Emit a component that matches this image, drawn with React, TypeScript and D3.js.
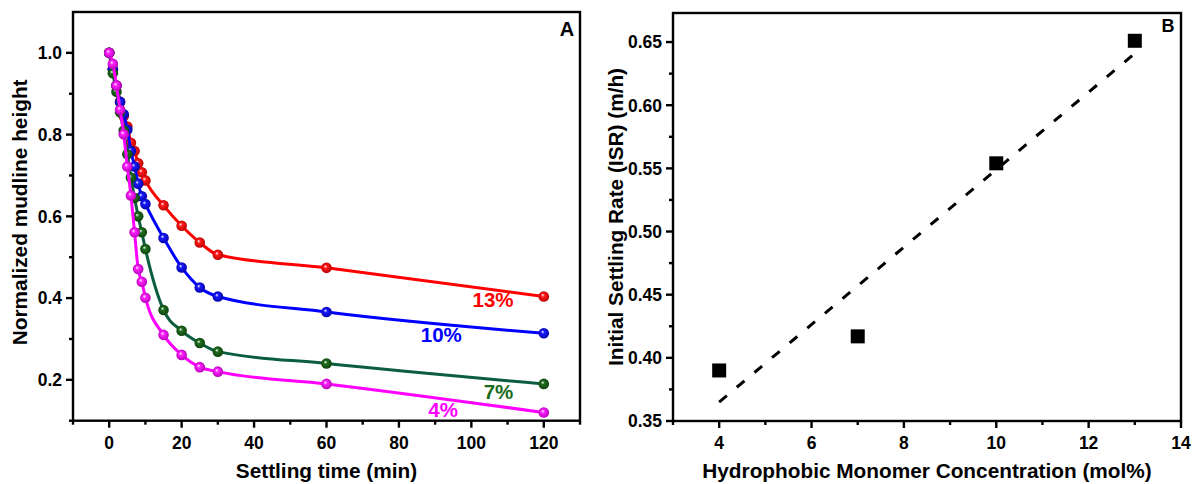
import React from 'react';
import * as d3 from 'd3';

// Panel A: normalized mudline height vs settling time, one series per monomer loading
const settlingTimes = [0, 1, 2, 3, 4, 5, 6, 7, 8, 9, 10, 15, 20, 25, 30, 60, 120];
const height13 = [1.0, 0.96, 0.92, 0.88, 0.845, 0.82, 0.78, 0.76, 0.73, 0.708, 0.688, 0.627, 0.577, 0.536, 0.506, 0.474, 0.404];
const height10 = [1.0, 0.96, 0.92, 0.88, 0.85, 0.812, 0.76, 0.722, 0.68, 0.649, 0.63, 0.547, 0.475, 0.426, 0.404, 0.366, 0.314];
const height7 = [1.0, 0.95, 0.905, 0.855, 0.81, 0.752, 0.695, 0.645, 0.6, 0.561, 0.52, 0.371, 0.32, 0.29, 0.269, 0.24, 0.19];
const height4 = [1.0, 0.973, 0.92, 0.861, 0.801, 0.722, 0.651, 0.561, 0.471, 0.44, 0.401, 0.31, 0.261, 0.231, 0.22, 0.19, 0.12];
const seriesNames = ['13%', '10%', '7%', '4%'];

// Panel B: initial settling rate vs hydrophobic monomer concentration
const monomerConc = [4, 7, 10, 13];
const isrValues = [0.39, 0.417, 0.554, 0.651];

const FONT = "'Liberation Sans', Arial, Helvetica, sans-serif";
const TICK_FS = 17.5;
const TITLE_FS = 20.8;

const seriesStyle = [
  { values: height13, line: '#ff0000', marker: '#ff1a1a', dark: '#b30000', label: '#ff0000', lx: 106, ly: 0.378 },
  { values: height10, line: '#0000ff', marker: '#1a1aff', dark: '#0000a0', label: '#0000ff', lx: 91.7, ly: 0.293 },
  { values: height7, line: '#0b5e3d', marker: '#1f6e1f', dark: '#0c400c', label: '#1a6b1a', lx: 107.5, ly: 0.153 },
  { values: height4, line: '#ff00ff', marker: '#ff22ff', dark: '#b000b0', label: '#ff00ff', lx: 92.2, ly: 0.109 },
];

function PanelA() {
  const x = d3.scaleLinear().domain([-10, 130]).range([73, 580]);
  const y = d3.scaleLinear().domain([0.1, 1.1]).range([420.7, 12]);
  const [x0, x1] = x.range();
  const [yb, yt] = y.range();

  const majorX = d3.range(0, 121, 20);
  const minorX = d3.range(-10, 131, 20);
  const majorY = [0.2, 0.4, 0.6, 0.8, 1.0];
  const minorY = [0.1, 0.3, 0.5, 0.7, 0.9];

  const line = d3
    .line<number>()
    .x((_, i) => x(settlingTimes[i]))
    .y((d) => y(d))
    .curve(d3.curveMonotoneX);

  return (
    <g>
      {/* series */}
      {seriesStyle.map((s, si) => (
        <g key={si}>
          <path d={line(s.values) || ''} fill="none" stroke={s.line} strokeWidth={3} />
          {s.values.map((v, i) => (
            <circle key={i} cx={x(settlingTimes[i])} cy={y(v)} r={5.3} fill={`url(#sphereA${si})`} />
          ))}
        </g>
      ))}
      {seriesStyle.map((s, si) => (
        <text
          key={`lab${si}`}
          x={x(s.lx)}
          y={y(s.ly)}
          textAnchor="middle"
          fontFamily={FONT}
          fontWeight="bold"
          fontSize={20.5}
          fill={s.label}
        >
          {seriesNames[si]}
        </text>
      ))}

      {/* frame */}
      <rect x={x0} y={yt} width={x1 - x0} height={yb - yt} fill="none" stroke="#000" strokeWidth={2.4} />

      {/* x axis ticks */}
      {majorX.map((t) => (
        <g key={`mx${t}`}>
          <line x1={x(t)} x2={x(t)} y1={yb} y2={yb + 7} stroke="#000" strokeWidth={2.4} />
          <text x={x(t)} y={449} textAnchor="middle" fontFamily={FONT} fontWeight="bold" fontSize={TICK_FS}>
            {t}
          </text>
        </g>
      ))}
      {minorX.map((t) => (
        <line key={`nx${t}`} x1={x(t)} x2={x(t)} y1={yb} y2={yb + 4} stroke="#000" strokeWidth={2.4} />
      ))}

      {/* y axis ticks */}
      {majorY.map((t) => (
        <g key={`my${t}`}>
          <line x1={x0 - 7} x2={x0} y1={y(t)} y2={y(t)} stroke="#000" strokeWidth={2.4} />
          <text x={62} y={y(t)} dy="0.36em" textAnchor="end" fontFamily={FONT} fontWeight="bold" fontSize={TICK_FS}>
            {t.toFixed(1)}
          </text>
        </g>
      ))}
      {minorY.map((t) => (
        <line key={`ny${t}`} x1={x0 - 4} x2={x0} y1={y(t)} y2={y(t)} stroke="#000" strokeWidth={2.4} />
      ))}

      {/* titles */}
      <text x={(x0 + x1) / 2} y={478} textAnchor="middle" fontFamily={FONT} fontWeight="bold" fontSize={TITLE_FS}>
        Settling time (min)
      </text>
      <text
        transform={`translate(27, ${(yb + yt) / 2 - 4}) rotate(-90)`}
        textAnchor="middle"
        fontFamily={FONT}
        fontWeight="bold"
        fontSize={TITLE_FS}
      >
        Normalized mudline height
      </text>
      <text x={567} y={36} textAnchor="middle" fontFamily={FONT} fontWeight="bold" fontSize={20}>
        A
      </text>
    </g>
  );
}

function PanelB() {
  const x = d3.scaleLinear().domain([3, 14]).range([673, 1181]);
  const y = d3.scaleLinear().domain([0.35, 0.673]).range([421, 13]);
  const [x0, x1] = x.range();
  const [yb, yt] = y.range();

  const majorX = d3.range(4, 15, 2);
  const minorX = d3.range(3, 14, 2);
  const majorY = d3.range(0, 7).map((i) => 0.35 + i * 0.05);
  const minorY = d3.range(0, 6).map((i) => 0.375 + i * 0.05);

  // least-squares linear fit of ISR vs concentration
  const mx = d3.mean(monomerConc) as number;
  const my = d3.mean(isrValues) as number;
  const sxy = d3.sum(monomerConc, (c, i) => (c - mx) * (isrValues[i] - my));
  const sxx = d3.sum(monomerConc, (c) => (c - mx) ** 2);
  const slope = sxy / sxx;
  const intercept = my - slope * mx;
  const fitX = [monomerConc[0], monomerConc[monomerConc.length - 1]];
  const fitLine = d3
    .line<number>()
    .x((c) => x(c))
    .y((c) => y(intercept + slope * c));

  const sq = 14;

  return (
    <g>
      <path d={fitLine(fitX) || ''} fill="none" stroke="#000" strokeWidth={3} strokeDasharray="10,13" />
      {monomerConc.map((c, i) => (
        <rect key={i} x={x(c) - sq / 2} y={y(isrValues[i]) - sq / 2} width={sq} height={sq} fill="#000" />
      ))}

      <rect x={x0} y={yt} width={x1 - x0} height={yb - yt} fill="none" stroke="#000" strokeWidth={2.4} />

      {majorX.map((t) => (
        <g key={`mx${t}`}>
          <line x1={x(t)} x2={x(t)} y1={yb} y2={yb + 7} stroke="#000" strokeWidth={2.4} />
          <text x={x(t)} y={449} textAnchor="middle" fontFamily={FONT} fontWeight="bold" fontSize={TICK_FS}>
            {t}
          </text>
        </g>
      ))}
      {minorX.map((t) => (
        <line key={`nx${t}`} x1={x(t)} x2={x(t)} y1={yb} y2={yb + 4} stroke="#000" strokeWidth={2.4} />
      ))}

      {majorY.map((t) => (
        <g key={`my${t}`}>
          <line x1={x0 - 7} x2={x0} y1={y(t)} y2={y(t)} stroke="#000" strokeWidth={2.4} />
          <text x={662} y={y(t)} dy="0.36em" textAnchor="end" fontFamily={FONT} fontWeight="bold" fontSize={TICK_FS}>
            {t.toFixed(2)}
          </text>
        </g>
      ))}
      {minorY.map((t) => (
        <line key={`ny${t}`} x1={x0 - 4} x2={x0} y1={y(t)} y2={y(t)} stroke="#000" strokeWidth={2.4} />
      ))}

      <text x={(x0 + x1) / 2} y={478} textAnchor="middle" fontFamily={FONT} fontWeight="bold" fontSize={TITLE_FS}>
        Hydrophobic Monomer Concentration (mol%)
      </text>
      <text
        transform={`translate(623, ${(yb + yt) / 2}) rotate(-90)`}
        textAnchor="middle"
        fontFamily={FONT}
        fontWeight="bold"
        fontSize={TITLE_FS}
      >
        Initial Settling Rate (ISR) (m/h)
      </text>
      <text x={1168} y={32} textAnchor="middle" fontFamily={FONT} fontWeight="bold" fontSize={18}>
        B
      </text>
    </g>
  );
}

export default function App() {
  return (
    <svg
      width={1192}
      height={484}
      viewBox="0 0 1192 484"
      style={{ position: 'absolute', left: 0, top: 0, background: '#fff' }}
    >
      <defs>
        {seriesStyle.map((s, si) => (
          <radialGradient key={si} id={`sphereA${si}`} cx="0.5" cy="0.5" r="0.55" fx="0.38" fy="0.35">
            <stop offset="0%" stopColor="#ffffff" />
            <stop offset="30%" stopColor={s.marker} />
            <stop offset="100%" stopColor={s.dark} />
          </radialGradient>
        ))}
      </defs>
      <rect width={1192} height={484} fill="#fff" />
      <PanelA />
      <PanelB />
    </svg>
  );
}
